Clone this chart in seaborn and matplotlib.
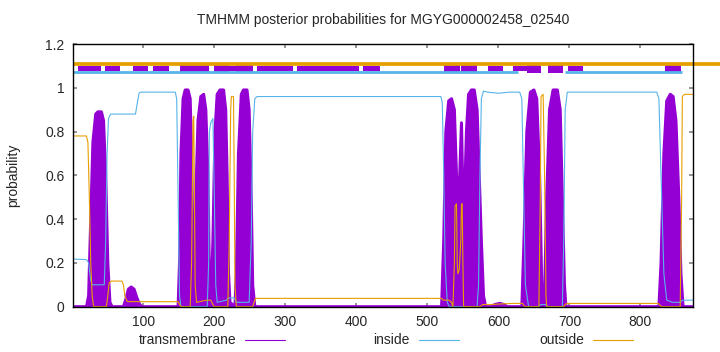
import matplotlib
matplotlib.use("Agg")
import matplotlib.pyplot as plt
import seaborn as sns
import pandas as pd
from matplotlib.lines import Line2D

sns.set_theme(style="white")
plt.rcParams['font.family'] = ['Liberation Sans', 'DejaVu Sans']

title = "TMHMM posterior probabilities for MGYG000002458_02540"
x_ticks = [100, 200, 300, 400, 500, 600, 700, 800]
y_ticks = [0, 0.2, 0.4, 0.6, 0.8, 1.0, 1.2]
y_tick_labels = ["0", "0.2", "0.4", "0.6", "0.8", "1", "1.2"]
series_names = ["transmembrane", "inside", "outside"]
seq_len = 874

# transmembrane posterior (residue, probability)
tm_pos = [1, 20, 23, 26, 29, 33, 36, 41, 44, 47, 50, 53, 56, 72, 75, 79, 83, 87, 91, 95, 98,
          149, 151, 153, 156, 159, 163, 166, 168, 170, 172, 174, 177, 181, 185, 188, 191, 193,
          196, 198, 201, 204, 208, 213, 216, 218, 220, 222, 229, 231, 234, 238, 241, 246, 249,
          252, 254, 257, 520, 523, 526, 530, 534, 538, 541, 543, 545, 548, 550, 552, 555, 558,
          562, 566, 570, 573, 576, 579, 582, 590, 595, 602, 608, 612, 633, 636, 640, 645, 650,
          654, 658, 661, 663, 665, 668, 672, 677, 683, 687, 690, 693, 695, 826, 829, 833, 837,
          842, 846, 850, 854, 857, 860, 874]
tm_prob = [0, 0, 0.05, 0.4, 0.75, 0.88, 0.89, 0.89, 0.85, 0.6, 0.2, 0.02, 0, 0, 0.03, 0.08, 0.09,
           0.08, 0.04, 0.01, 0,
           0, 0.2, 0.7, 0.95, 0.99, 0.99, 0.95, 0.7, 0.25, 0.2, 0.5, 0.85, 0.96, 0.97, 0.9, 0.6,
           0.15, 0.1, 0.3, 0.8, 0.97, 0.99, 0.99, 0.9, 0.6, 0.15, 0.02, 0, 0.15, 0.7, 0.97, 0.99,
           0.99, 0.9, 0.5, 0.1, 0, 0, 0.3, 0.8, 0.94, 0.95, 0.9, 0.6, 0.45, 0.55, 0.84, 0.5, 0.45,
           0.8, 0.97, 0.99, 0.99, 0.9, 0.6, 0.3, 0.05, 0, 0, 0.01, 0.015, 0.01, 0, 0, 0.3, 0.8,
           0.98, 0.99, 0.95, 0.6, 0.1, 0.01, 0.05, 0.5, 0.9, 0.99, 0.99, 0.9, 0.5, 0.1, 0, 0, 0.2,
           0.7, 0.94, 0.97, 0.96, 0.85, 0.5, 0.15, 0, 0]

in_pos = [1, 20, 23, 26, 28, 45, 47, 49, 51, 54, 89, 91, 94, 96, 145, 147, 149, 151, 153, 190,
          192, 193, 195, 198, 200, 202, 204, 217, 220, 228, 231, 249, 252, 254, 257, 260, 519,
          521, 523, 525, 528, 531, 570, 572, 574, 576, 579, 585, 600, 615, 630, 633, 635, 638,
          642, 643, 656, 660, 666, 670, 690, 692, 694, 697, 823, 826, 829, 833, 837, 845, 856,
          859, 874]
in_prob = [0.218, 0.215, 0.2, 0.12, 0.1, 0.1, 0.3, 0.7, 0.86, 0.88, 0.88, 0.92, 0.975, 0.98,
           0.98, 0.95, 0.5, 0.05, 0, 0, 0.2, 0.8, 0.84, 0.86, 0.5, 0.1, 0.02, 0.03, 0.04, 0.04,
           0.02, 0.02, 0.3, 0.8, 0.95, 0.96, 0.96, 0.93, 0.6, 0.2, 0.02, 0, 0, 0.1, 0.6, 0.95,
           0.985, 0.98, 0.975, 0.98, 0.98, 0.95, 0.6, 0.1, 0.01, 0, 0, 0.01, 0.01, 0, 0, 0.3, 0.9,
           0.98, 0.98, 0.95, 0.6, 0.15, 0.03, 0.02, 0.02, 0.03, 0.03]

out_pos = [1, 20, 22, 24, 26, 28, 30, 48, 50, 52, 55, 70, 72, 74, 77, 80, 149, 151, 153, 166,
           168, 170, 171, 172, 173, 175, 182, 190, 195, 198, 200, 219, 221, 223, 224, 227, 228,
           229, 231, 254, 256, 258, 520, 522, 530, 534, 536, 538, 539, 541, 542, 543, 545, 547,
           548, 549, 550, 551, 574, 578, 590, 600, 620, 634, 636, 638, 657, 659, 660, 663, 665,
           667, 668, 692, 694, 697, 825, 828, 830, 856, 858, 859, 862, 874]
out_prob = [0.78, 0.78, 0.75, 0.5, 0.2, 0.05, 0, 0, 0.05, 0.11, 0.117, 0.117, 0.1, 0.05, 0.025,
            0.023, 0.023, 0.01, 0, 0, 0.2, 0.85, 0.87, 0.5, 0.1, 0.02, 0.025, 0.03, 0.03, 0.01,
            0, 0, 0.3, 0.9, 0.96, 0.96, 0.6, 0.1, 0, 0, 0.02, 0.038, 0.038, 0.03, 0.03, 0.02, 0,
            0.2, 0.46, 0.47, 0.2, 0.15, 0.17, 0.3, 0.47, 0.47, 0.2, 0, 0, 0.01, 0.01, 0.012,
            0.015, 0.015, 0.005, 0, 0, 0.5, 0.96, 0.97, 0.6, 0.05, 0, 0, 0.01, 0.015, 0.015,
            0.005, 0, 0, 0.5, 0.96, 0.97, 0.97]

# topology bar segments (start, end residue)
small_boxes = [(8, 40), (46, 67), (85, 107), (114, 136), (220, 230), (260, 311), (316, 404),
               (409, 433), (585, 606), (620, 640), (698, 719)]
large_boxes = [(151, 171), (172, 193), (199, 220), (230, 255), (523, 546), (547, 570),
               (640, 660), (670, 691), (835, 857)]
inside_bar = [(1, 627), (694, 859)]
outside_bar = [(1, 912)]

PURPLE = "#9400D3"
BLUE = "#56B4E9"
ORANGE = "#E69F00"
colors = [PURPLE, BLUE, ORANGE]

W, H = 720, 352
fig = plt.figure(figsize=(7.2, 3.52), dpi=100)
ax = fig.add_axes([73 / W, 1 - 306.7 / H, 620 / W, (306.7 - 44) / H])

tm_df = pd.DataFrame({"pos": tm_pos, "prob": tm_prob})
in_df = pd.DataFrame({"pos": in_pos, "prob": in_prob})
out_df = pd.DataFrame({"pos": out_pos, "prob": out_prob})

ax.fill_between(tm_df["pos"], 0, tm_df["prob"], color=PURPLE, lw=0)
sns.lineplot(data=tm_df, x="pos", y="prob", ax=ax, color=PURPLE, lw=2.2,
             solid_capstyle="round", solid_joinstyle="round")
sns.lineplot(data=in_df, x="pos", y="prob", ax=ax, color=BLUE, lw=0.8)
sns.lineplot(data=out_df, x="pos", y="prob", ax=ax, color=ORANGE, lw=0.8)

for s, e in outside_bar:
    ax.plot([s, e], [1.108, 1.108], color=ORANGE, lw=2.7, clip_on=False, solid_capstyle="butt")
for s, e in inside_bar:
    ax.plot([s, e], [1.070, 1.070], color=BLUE, lw=2.0, solid_capstyle="butt")
for s, e in small_boxes:
    ax.fill_between([s, e], 1.077, 1.099, color=PURPLE, lw=0)
for s, e in large_boxes:
    ax.fill_between([s, e], 1.066, 1.113, color=PURPLE, lw=0)

ax.set_xlim(1, seq_len)
ax.set_ylim(0, 1.2)
ax.set_xticks(x_ticks)
ax.set_xticklabels([str(t) for t in x_ticks])
ax.set_yticks(y_ticks)
ax.set_yticklabels(y_tick_labels)
ax.set_xlabel("")
ax.set_ylabel("probability", fontsize=10)
ax.yaxis.set_label_coords(-0.085, 0.5)
ax.tick_params(axis="both", which="both", direction="in", length=3, color="#888888",
               labelsize=10, top=True, right=True, bottom=True, left=True, pad=6)
for sp in ax.spines.values():
    sp.set_color("black")
    sp.set_linewidth(1.0)
    sp.set_zorder(5)

fig.text(383 / W, 1 - 20 / H, title, ha="center", va="center", fontsize=10)

# bottom key: text right-aligned, followed by a short sample line
key_text_right = [236, 410, 584]
key_y = 1 - 340 / H
for name, col, xr in zip(series_names, colors, key_text_right):
    fig.text(xr / W, key_y, name, ha="right", va="center", fontsize=10)
    fig.add_artist(Line2D([(xr + 9) / W, (xr + 49) / W], [key_y, key_y], color=col, lw=0.8,
                          transform=fig.transFigure))

fig.savefig("out.png", dpi=100)
